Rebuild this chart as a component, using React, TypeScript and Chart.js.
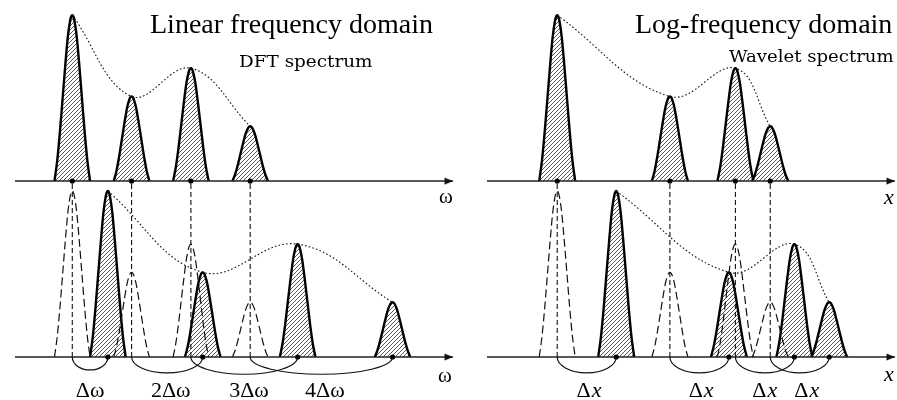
import React, { useEffect, useRef } from 'react';
import { Chart, registerables } from 'chart.js';

Chart.register(...registerables);

// ---------- data ----------
// linear-frequency panel (ω units)
const OMEGA_PEAKS = [1, 2, 3, 4];
const OMEGA_SHIFTED = [1.6, 3.2, 4.8, 6.4];
// log-frequency panel (x units)
const X_PEAKS = [1.19, 3.1, 4.21, 4.8];
const X_SHIFTED = [2.19, 4.1, 5.21, 5.8];
// peak amplitudes (same for every copy)
const AMPLITUDES = [1.0, 0.51, 0.68, 0.33];

const LEFT_SHIFT_LABELS = ['Δω', '2Δω', '3Δω', '4Δω'];
const RIGHT_SHIFT_LABELS = ['Δx', 'Δx', 'Δx', 'Δx'];
const LEFT_LABEL_AT = [1.3, 2.66, 3.98, 5.26];
const RIGHT_LABEL_AT = [1.72, 3.62, 4.7, 5.41];
const LEFT_ARC_DEPTH = [0.078, 0.096, 0.104, 0.104];
const RIGHT_ARC_DEPTH = [0.095, 0.096, 0.096, 0.096];

// normalised peak outline (offset in half-widths, relative height)
const PEAK_T = [-1, -0.85, -0.7, -0.55, -0.4, -0.25, -0.12, -0.06, 0, 0.06, 0.12, 0.25, 0.4, 0.55, 0.7, 0.85, 1];
const PEAK_Y = [0, 0.12, 0.29, 0.49, 0.69, 0.87, 0.968, 0.992, 1, 0.992, 0.968, 0.87, 0.69, 0.49, 0.29, 0.12, 0];

const TOP_BASE = 1.06;
const LEFT_HALF_WIDTH = 0.3;
const RIGHT_HALF_WIDTH = 0.305;
const LEFT_AXIS = [0.034, 7.42];
const RIGHT_AXIS = [0, 6.915];

const SERIF = '"Liberation Serif", "Times New Roman", serif';

function peak(center: number, hw: number, h: number, base: number) {
  return PEAK_T.map((t, i) => ({ x: center + t * hw, y: base + h * PEAK_Y[i] }));
}

function makeHatch(): CanvasPattern | string {
  const c = document.createElement('canvas');
  c.width = 4;
  c.height = 4;
  const g = c.getContext('2d');
  if (!g) return '#999';
  g.strokeStyle = '#3a3a3a';
  g.lineWidth = 0.85;
  g.beginPath();
  g.moveTo(0, 4); g.lineTo(4, 0);
  g.moveTo(-1, 1); g.lineTo(1, -1);
  g.moveTo(3, 5); g.lineTo(5, 3);
  g.stroke();
  const main = document.createElement('canvas').getContext('2d');
  return (main && main.createPattern(c, 'repeat')) || '#999';
}

function makeArrow(): HTMLCanvasElement {
  const c = document.createElement('canvas');
  c.width = 20;
  c.height = 8;
  const g = c.getContext('2d');
  if (g) {
    g.fillStyle = '#111';
    g.beginPath();
    g.moveTo(1.5, 0.6);
    g.lineTo(10, 4);
    g.lineTo(1.5, 7.4);
    g.closePath();
    g.fill();
  }
  return c;
}

const annotations = {
  id: 'annotations',
  afterDatasetsDraw(chart: any) {
    const ctx = chart.ctx as CanvasRenderingContext2D;
    const xL = chart.scales.xL;
    const xR = chart.scales.xR;
    const y = chart.scales.y;
    const y0 = y.getPixelForValue(0);
    const yT = y.getPixelForValue(TOP_BASE);
    ctx.save();

    // shift arcs
    ctx.strokeStyle = '#111';
    ctx.lineWidth = 1.2;
    const arc = (sc: any, a: number, b: number, d: number) => {
      const pa = sc.getPixelForValue(a);
      const pb = sc.getPixelForValue(b);
      const pd = y.getPixelForValue(-d) - y0;
      ctx.beginPath();
      ctx.ellipse((pa + pb) / 2, y0, Math.abs(pb - pa) / 2, pd, 0, 0, Math.PI);
      ctx.stroke();
    };
    OMEGA_PEAKS.forEach((w, i) => arc(xL, w, OMEGA_SHIFTED[i], LEFT_ARC_DEPTH[i]));
    X_PEAKS.forEach((w, i) => arc(xR, w, X_SHIFTED[i], RIGHT_ARC_DEPTH[i]));

    ctx.fillStyle = '#000';
    ctx.textBaseline = 'alphabetic';

    // titles
    ctx.textAlign = 'left';
    ctx.font = `28px ${SERIF}`;
    ctx.fillText('Linear frequency domain', 150, 33);
    ctx.fillText('Log-frequency domain', 635, 33);

    const stretched = (txt: string, x: number, yy: number, s: number) => {
      ctx.save();
      ctx.font = '16px "DejaVu Serif", serif';
      ctx.textAlign = 'left';
      ctx.translate(x, yy);
      ctx.scale(s, 1);
      ctx.fillText(txt, 0, 0);
      ctx.restore();
    };
    stretched('DFT spectrum', 239, 67, 1.15);
    stretched('Wavelet spectrum', 729, 62, 1.13);

    // axis labels
    ctx.textAlign = 'center';
    ctx.font = `21px ${SERIF}`;
    const lTip = xL.getPixelForValue(LEFT_AXIS[1]);
    ctx.fillText('ω', lTip - 7, yT + 22);
    ctx.fillText('ω', lTip - 8, y0 + 25);
    ctx.font = `italic 22px ${SERIF}`;
    const rTip = xR.getPixelForValue(RIGHT_AXIS[1]);
    ctx.fillText('x', rTip - 6, yT + 23);
    ctx.fillText('x', rTip - 6, y0 + 24);

    // shift labels
    const yl = y0 + 40;
    ctx.font = `22px ${SERIF}`;
    LEFT_SHIFT_LABELS.forEach((t, i) => {
      ctx.fillText(t, xL.getPixelForValue(LEFT_LABEL_AT[i]), yl);
    });
    RIGHT_SHIFT_LABELS.forEach((t, i) => {
      const cx = xR.getPixelForValue(RIGHT_LABEL_AT[i]);
      const head = t.slice(0, 1);
      const tail = t.slice(1);
      ctx.font = `22px ${SERIF}`;
      const w1 = ctx.measureText(head).width;
      ctx.font = `italic 22px ${SERIF}`;
      const w2 = ctx.measureText(tail).width;
      const x0 = cx - (w1 + w2) / 2;
      ctx.textAlign = 'left';
      ctx.font = `22px ${SERIF}`;
      ctx.fillText(head, x0, yl);
      ctx.font = `italic 22px ${SERIF}`;
      ctx.fillText(tail, x0 + w1 + 1, yl);
      ctx.textAlign = 'center';
    });
    ctx.restore();
  },
};

export default function App() {
  const ref = useRef<HTMLCanvasElement | null>(null);

  useEffect(() => {
    if (!ref.current) return;
    const hatch = makeHatch();
    const arrow = makeArrow();
    const datasets: any[] = [];

    const solid = (axis: string, centers: number[], hw: number, base: number) => {
      centers.forEach((c, i) => {
        datasets.push({
          xAxisID: axis,
          yAxisID: 'y',
          data: peak(c, hw, AMPLITUDES[i], base),
          borderColor: '#000',
          borderWidth: 2.4,
          backgroundColor: hatch,
          fill: { value: base },
          pointRadius: 0,
          showLine: true,
          cubicInterpolationMode: 'monotone',
          order: 6,
        });
      });
    };
    const dashed = (axis: string, centers: number[], hw: number) => {
      centers.forEach((c, i) => {
        datasets.push({
          xAxisID: axis,
          yAxisID: 'y',
          data: peak(c, hw, AMPLITUDES[i], 0),
          borderColor: '#111',
          borderWidth: 1.2,
          borderDash: [8, 4],
          fill: false,
          pointRadius: 0,
          showLine: true,
          cubicInterpolationMode: 'monotone',
          order: 5,
        });
      });
    };
    const verticals = (axis: string, centers: number[]) => {
      centers.forEach((c) => {
        datasets.push({
          xAxisID: axis,
          yAxisID: 'y',
          data: [{ x: c, y: 0 }, { x: c, y: TOP_BASE }],
          borderColor: '#111',
          borderWidth: 1.1,
          borderDash: [5, 3],
          pointRadius: 0,
          showLine: true,
          order: 4,
        });
      });
    };
    const envelope = (axis: string, centers: number[], base: number) => {
      datasets.push({
        xAxisID: axis,
        yAxisID: 'y',
        data: centers.map((c, i) => ({ x: c, y: base + AMPLITUDES[i] })),
        borderColor: '#111',
        borderWidth: 1.1,
        borderDash: [1.6, 2.2],
        pointRadius: 0,
        showLine: true,
        tension: 0.4,
        order: 4,
      });
    };
    const axisLine = (axis: string, range: number[], base: number) => {
      datasets.push({
        xAxisID: axis,
        yAxisID: 'y',
        data: [{ x: range[0], y: base }, { x: range[1], y: base }],
        borderColor: '#222',
        borderWidth: 1.5,
        pointRadius: 0,
        showLine: true,
        order: 2,
      });
      datasets.push({
        xAxisID: axis,
        yAxisID: 'y',
        data: [{ x: range[1], y: base }],
        pointStyle: arrow,
        pointRadius: 5,
        showLine: false,
        order: 1,
      });
    };
    const dots = (axis: string, centers: number[], base: number) => {
      datasets.push({
        xAxisID: axis,
        yAxisID: 'y',
        data: centers.map((c) => ({ x: c, y: base })),
        backgroundColor: '#000',
        borderColor: '#000',
        pointRadius: 2.6,
        pointBorderWidth: 0,
        showLine: false,
        order: 0,
      });
    };

    // left: linear frequency
    solid('xL', OMEGA_PEAKS, LEFT_HALF_WIDTH, TOP_BASE);
    solid('xL', OMEGA_SHIFTED, LEFT_HALF_WIDTH, 0);
    dashed('xL', OMEGA_PEAKS, LEFT_HALF_WIDTH);
    verticals('xL', OMEGA_PEAKS);
    envelope('xL', OMEGA_PEAKS, TOP_BASE);
    envelope('xL', OMEGA_SHIFTED, 0);
    axisLine('xL', LEFT_AXIS, TOP_BASE);
    axisLine('xL', LEFT_AXIS, 0);
    dots('xL', OMEGA_PEAKS, TOP_BASE);
    dots('xL', OMEGA_SHIFTED, 0);

    // right: log frequency
    solid('xR', X_PEAKS, RIGHT_HALF_WIDTH, TOP_BASE);
    solid('xR', X_SHIFTED, RIGHT_HALF_WIDTH, 0);
    dashed('xR', X_PEAKS, RIGHT_HALF_WIDTH);
    verticals('xR', X_PEAKS);
    envelope('xR', X_PEAKS, TOP_BASE);
    envelope('xR', X_SHIFTED, 0);
    axisLine('xR', RIGHT_AXIS, TOP_BASE);
    axisLine('xR', RIGHT_AXIS, 0);
    dots('xR', X_PEAKS, TOP_BASE);
    dots('xR', X_SHIFTED, 0);

    const chart = new Chart(ref.current, {
      type: 'scatter',
      data: { datasets },
      options: {
        animation: false,
        responsive: false,
        maintainAspectRatio: false,
        devicePixelRatio: 1,
        layout: { padding: 0, autoPadding: false },
        plugins: { legend: { display: false }, tooltip: { enabled: false }, title: { display: false } },
        events: [],
        scales: {
          xL: { type: 'linear', axis: 'x', display: false, min: -0.219, max: 14.907 },
          xR: { type: 'linear', axis: 'x', display: false, min: -8.254, max: 6.949 },
          y: { type: 'linear', display: false, min: -0.259, max: 2.151 },
        },
      } as any,
      plugins: [annotations],
    });
    return () => chart.destroy();
  }, []);

  return (
    <div style={{ position: 'absolute', left: 0, top: 0, width: 897, height: 400, background: '#fff' }}>
      <canvas ref={ref} width={897} height={400} style={{ display: 'block', width: 897, height: 400 }} />
    </div>
  );
}
